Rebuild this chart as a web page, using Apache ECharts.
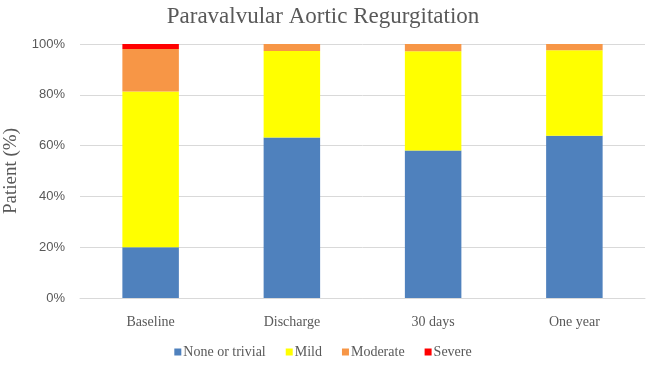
<!DOCTYPE html>
<html>
<head>
<meta charset="utf-8">
<script src="https://cdn.jsdelivr.net/npm/echarts@6/dist/echarts.min.js"></script>
<style>
  html, body { margin: 0; padding: 0; background: #fff; }
  #chart { width: 646px; height: 369px; }
</style>
</head>
<body>
<div id="chart"></div>
<script>
// time points
const categories = ['Baseline', 'Discharge', '30 days', 'One year'];
// share of patients per grade (%)
const noneTrivial = [20, 63.2, 58.1, 63.9];
const mild = [61.3, 34, 39, 33.6];
const moderate = [16.7, 2.8, 2.9, 2.5];
const severe = [2, 0, 0, 0];
const yTicks = [0, 20, 40, 60, 80, 100];

const serif = '"Liberation Serif", "Times New Roman", serif';
const sans = '"Liberation Sans", Arial, sans-serif';

let chart = echarts.init(document.getElementById('chart'));

function mkSeries(name, data, color) {
    return {
        name: name,
        type: 'bar',
        stack: 'total',
        barWidth: '40%',
        itemStyle: {color: color},
        data: data
    };
}

let option = {
    animation: false,
    title: {
        text: 'Paravalvular Aortic Regurgitation',
        left: 'center',
        top: 0,
        textStyle: {fontFamily: serif, fontWeight: 'normal', fontSize: 23, color: '#595959'}
    },
    legend: {
        bottom: 5,
        left: 'center',
        itemWidth: 7,
        itemHeight: 7,
        itemGap: 20,
        icon: 'rect',
        textStyle: {fontFamily: serif, fontSize: 14, color: '#595959', padding: [0, 0, 0, -3]},
        data: ['None or trivial', 'Mild', 'Moderate', 'Severe']
    },
    grid: {left: 80, right: 1, top: 44, bottom: 71, outerBoundsMode: 'none'},
    xAxis: {
        type: 'category',
        data: categories,
        axisLine: {lineStyle: {color: '#d9d9d9'}},
        axisTick: {show: false},
        axisLabel: {fontFamily: serif, fontSize: 14, color: '#595959', margin: 17}
    },
    yAxis: {
        type: 'value',
        min: yTicks[0],
        max: yTicks[yTicks.length - 1],
        interval: 20,
        name: 'Patient (%)',
        nameLocation: 'middle',
        nameGap: 56,
        nameTextStyle: {fontFamily: serif, fontSize: 19, color: '#595959'},
        axisLabel: {formatter: '{value}%', fontFamily: sans, fontSize: 13, color: '#595959', margin: 15},
        splitLine: {lineStyle: {color: '#d9d9d9'}}
    },
    series: [
        mkSeries('None or trivial', noneTrivial, '#4F81BD'),
        mkSeries('Mild', mild, '#FFFF00'),
        mkSeries('Moderate', moderate, '#F79646'),
        mkSeries('Severe', severe, '#FF0000')
    ]
};
chart.setOption(option);
</script>
</body>
</html>
